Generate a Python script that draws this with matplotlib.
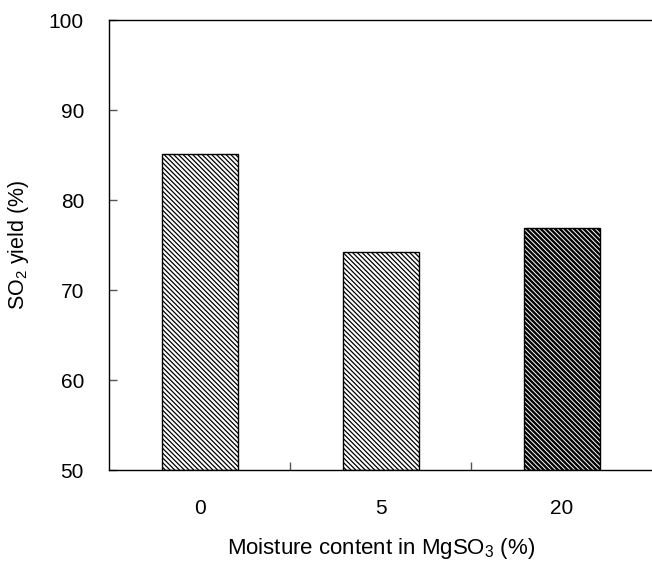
import matplotlib.pyplot as plt
import matplotlib as mpl
import numpy as np

mpl.rcParams["font.family"] = ["Liberation Sans", "DejaVu Sans"]
mpl.rcParams["mathtext.fontset"] = "custom"
mpl.rcParams["mathtext.rm"] = "Liberation Sans"

# SO2 yield for each moisture level
moisture = ["0", "5", "20"]
so2_yield = [85.1, 74.2, 76.9]
dark = [False, False, True]

fig = plt.figure(figsize=(6.52, 5.61), dpi=100)
ax = fig.add_axes([109 / 652, 91 / 561, 543.5 / 652, 450 / 561])

x = np.arange(len(moisture))
hatch = "\\" * 7
for xi, y, d in zip(x, so2_yield, dark):
    if d:
        # thin white hatch on a black fill, outline drawn separately
        mpl.rcParams["hatch.linewidth"] = 0.7
        ax.bar(xi, y - 50, bottom=50, width=0.42, color="black",
               edgecolor="white", hatch=hatch, linewidth=0)
        ax.bar(xi, y - 50, bottom=50, width=0.42, fill=False,
               edgecolor="black", linewidth=1.0)
    else:
        mpl.rcParams["hatch.linewidth"] = 0.9
        ax.bar(xi, y - 50, bottom=50, width=0.42, color="white",
               edgecolor="black", hatch=hatch, linewidth=1.0)

ax.set_xlim(-0.5, 2.5)
ax.set_ylim(50, 100)
ax.set_yticks(np.arange(50, 101, 10))
ax.set_xticks(x)
ax.set_xticklabels(moisture)
ax.set_xticks([0.5, 1.5], minor=True)

ax.tick_params(axis="x", which="major", length=0, pad=21, labelsize=15)
ax.tick_params(axis="x", which="minor", direction="in", length=6,
               width=1.0, color="#555555")
ax.tick_params(axis="y", direction="in", length=6, width=1.0,
               color="#555555", pad=18, labelsize=15)

ax.spines["right"].set_visible(False)
for s in ["left", "top", "bottom"]:
    ax.spines[s].set_linewidth(1.0)

ax.set_xlabel(r"Moisture content in MgSO$_3$ (%)", fontsize=16, labelpad=13)
ax.set_ylabel(r"SO$_2$ yield (%)", fontsize=15.5, labelpad=13)

plt.savefig("out.png", dpi=100)
plt.close(fig)
